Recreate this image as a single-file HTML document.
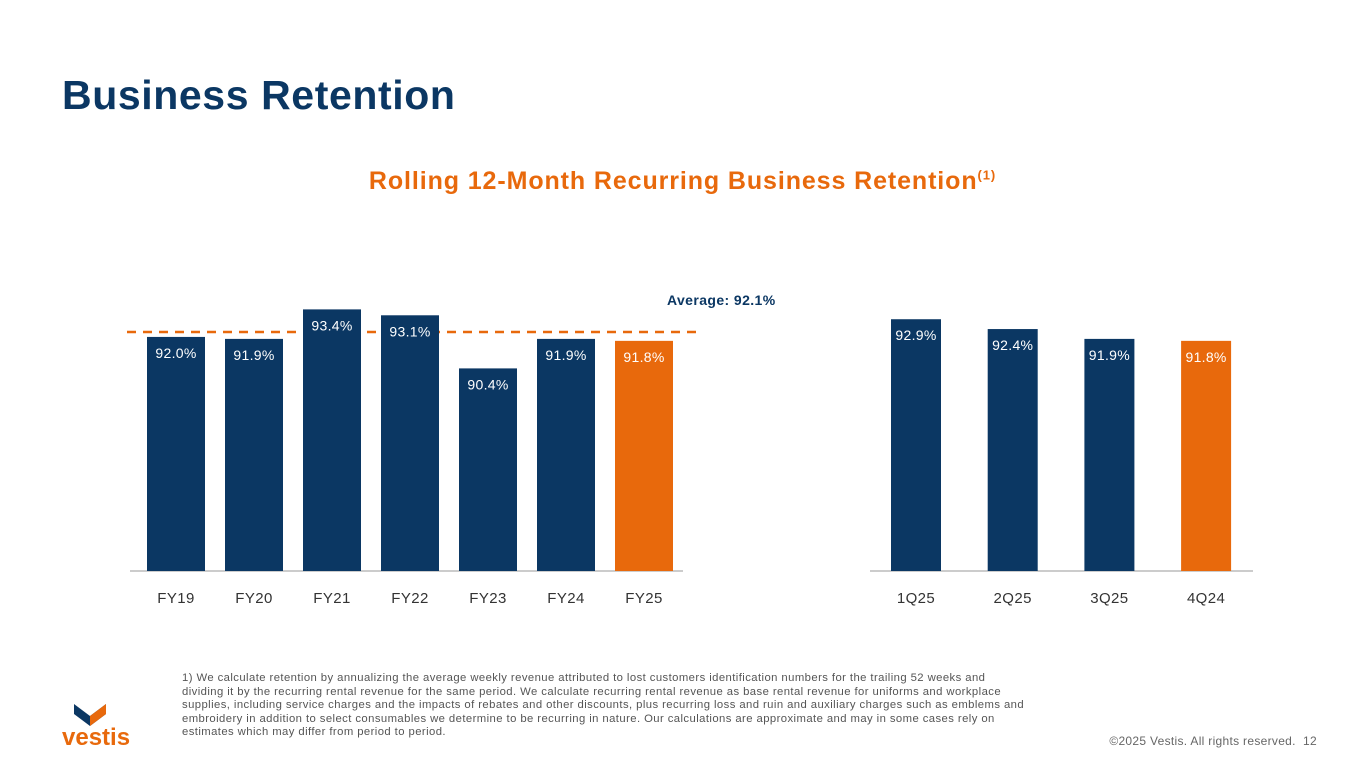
<!DOCTYPE html>
<html><head><meta charset="utf-8"><style>
body{margin:0;width:1365px;height:768px;background:#fff;font-family:"Liberation Sans",sans-serif;overflow:hidden;position:relative}
.t{position:absolute;margin:0}
</style></head><body>
<h1 class="t" style="left:62px;top:72px;font-size:41px;font-weight:bold;color:#0b3763;letter-spacing:0.6px">Business Retention</h1>
<div class="t" style="left:0;width:1365px;top:167px;text-align:center;font-size:25px;font-weight:bold;color:#e8690c;letter-spacing:0.9px">Rolling 12-Month Recurring Business Retention<sup style="font-size:13px">(1)</sup></div>
<svg id="chart" width="1365" height="768" style="position:absolute;left:0;top:0"></svg>
<div class="t" style="left:182px;top:672px;white-space:nowrap;font-size:11.3px;line-height:13.6px;color:#555;letter-spacing:0.42px">1) We calculate retention by annualizing the average weekly revenue attributed to lost customers identification numbers for the trailing 52 weeks and<br>dividing it by the recurring rental revenue for the same period. We calculate recurring rental revenue as base rental revenue for uniforms and workplace<br>supplies, including service charges and the impacts of rebates and other discounts, plus recurring loss and ruin and auxiliary charges such as emblems and<br>embroidery in addition to select consumables we determine to be recurring in nature. Our calculations are approximate and may in some cases rely on<br>estimates which may differ from period to period.</div>
<div class="t" style="left:62px;top:702px">
<svg width="84" height="46"><polygon points="12,2 28,14 44,2 44,12 28,24 12,12" fill="#0b3763"/><polygon points="28,14 44,2 44,12 28,24" fill="#e8690c"/><text x="0" y="43" font-size="24" font-weight="bold" fill="#e8690c" font-family="Liberation Sans">vestis</text></svg></div>
<div class="t" style="right:48px;top:734px;font-size:12px;color:#666;letter-spacing:0.3px">©2025 Vestis. All rights reserved.&nbsp; 12</div>
<script>
const annualCats=["FY19","FY20","FY21","FY22","FY23","FY24","FY25"];
const annualVals=[92.0,91.9,93.4,93.1,90.4,91.9,91.8];
const quarterCats=["1Q25","2Q25","3Q25","4Q24"];
const quarterVals=[92.9,92.4,91.9,91.8];
const averageVal=92.1;
const NS="http://www.w3.org/2000/svg",svg=document.getElementById("chart");
const base=571,vMin=80.1,ppu=19.67;
const y=v=>base-(v-vMin)*ppu;
function el(t,a){const e=document.createElementNS(NS,t);for(const k in a)e.setAttribute(k,a[k]);svg.appendChild(e);return e;}
const avg=el("line",{x1:127,x2:700,y1:y(averageVal)-3,y2:y(averageVal)-3,stroke:"#e8690c","stroke-width":2.5,"stroke-dasharray":"9,7"});


function group(cats,vals,x0,step,w,axis,pre){
  const l=el("line",{x1:axis[0],x2:axis[1],y1:base,y2:base,stroke:"#bbb","stroke-width":1.5});
  
  
  cats.forEach((c,i)=>{
    const x=x0+i*step,last=i===cats.length-1,col=last?"#e8690c":"#0b3763";
    const r=el("rect",{x:x,y:y(vals[i]),width:w,height:base-y(vals[i]),fill:col});
    
    
    const t=el("text",{x:x+w/2,y:y(vals[i])+21,"text-anchor":"middle","font-size":14,fill:"#fff","letter-spacing":"0.3"});t.textContent=vals[i].toFixed(1)+"%";
    
    
    const c2=el("text",{x:x+w/2,y:603,"text-anchor":"middle","font-size":15,fill:"#333","letter-spacing":"0.4"});c2.textContent=c;
    
    
  });
}
group(annualCats,annualVals,147,78,58,[130,683],"annual");
const at=el("text",{x:667,y:305,"font-size":14,"font-weight":"bold",fill:"#0b3763","letter-spacing":"0.4"});at.textContent="Average: "+averageVal.toFixed(1)+"%";


group(quarterCats,quarterVals,891,96.7,50,[870,1253],"quarterly");
</script>
</body></html>
